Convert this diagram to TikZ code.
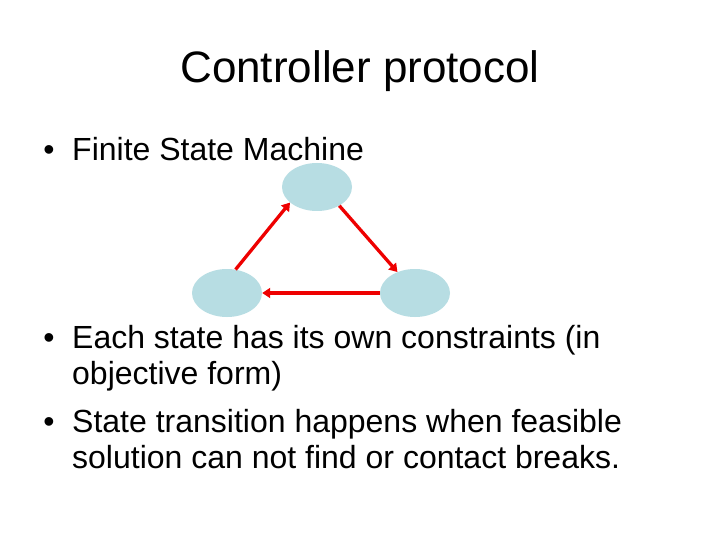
\documentclass[tikz,border=0pt]{standalone}
\usepackage{fontspec}
\setmainfont{Liberation Sans}
\usetikzlibrary{arrows.meta,shapes.geometric}
\definecolor{statefill}{RGB}{183,221,227}
\definecolor{arrowred}{RGB}{238,0,0}
\tikzset{
  state/.style={ellipse, fill=statefill, minimum width=70pt, minimum height=48pt, inner sep=0pt},
  trans/.style={draw=arrowred, line width=3.3pt, -{Triangle[length=8pt,width=10pt]}},
  titletext/.style={anchor=base, font=\fontsize{44}{50}\selectfont, inner sep=0pt},
  bodytext/.style={anchor=base west, font=\fontsize{32}{37}\selectfont, inner sep=0pt},
  bulletmark/.style={anchor=base, font=\fontsize{32}{37}\selectfont, inner sep=0pt}
}
\begin{document}
\begin{tikzpicture}[x=1pt,y=-1pt]
\useasboundingbox (0,0) rectangle (720,540);
\fill[white] (0,0) rectangle (720,540);
\node[titletext] (title) at (360,83) {Controller protocol};
\node[bulletmark] (b1) at (49,161) {•};
\node[bodytext] (t1) at (72,161) {Finite State Machine};
\node[bulletmark] (b2) at (49,348) {•};
\node[bodytext] (t2a) at (72,348) {Each state has its own constraints (in};
\node[bodytext] (t2b) at (72,384) {objective form)};
\node[bulletmark] (b3) at (49,432) {•};
\node[bodytext] (t3a) at (72,432) {State transition happens when feasible};
\node[bodytext] (t3b) at (72,468) {solution can not find or contact breaks.};
\node[state] (T) at (317,187) {};
\node[state] (L) at (227,293) {};
\node[state] (R) at (415,293) {};
\draw[trans] (L.70) -- (T.210);
\draw[trans] (T.-40) -- (R.130);
\draw[trans] (R.west) -- (L.east);
\end{tikzpicture}
\end{document}
